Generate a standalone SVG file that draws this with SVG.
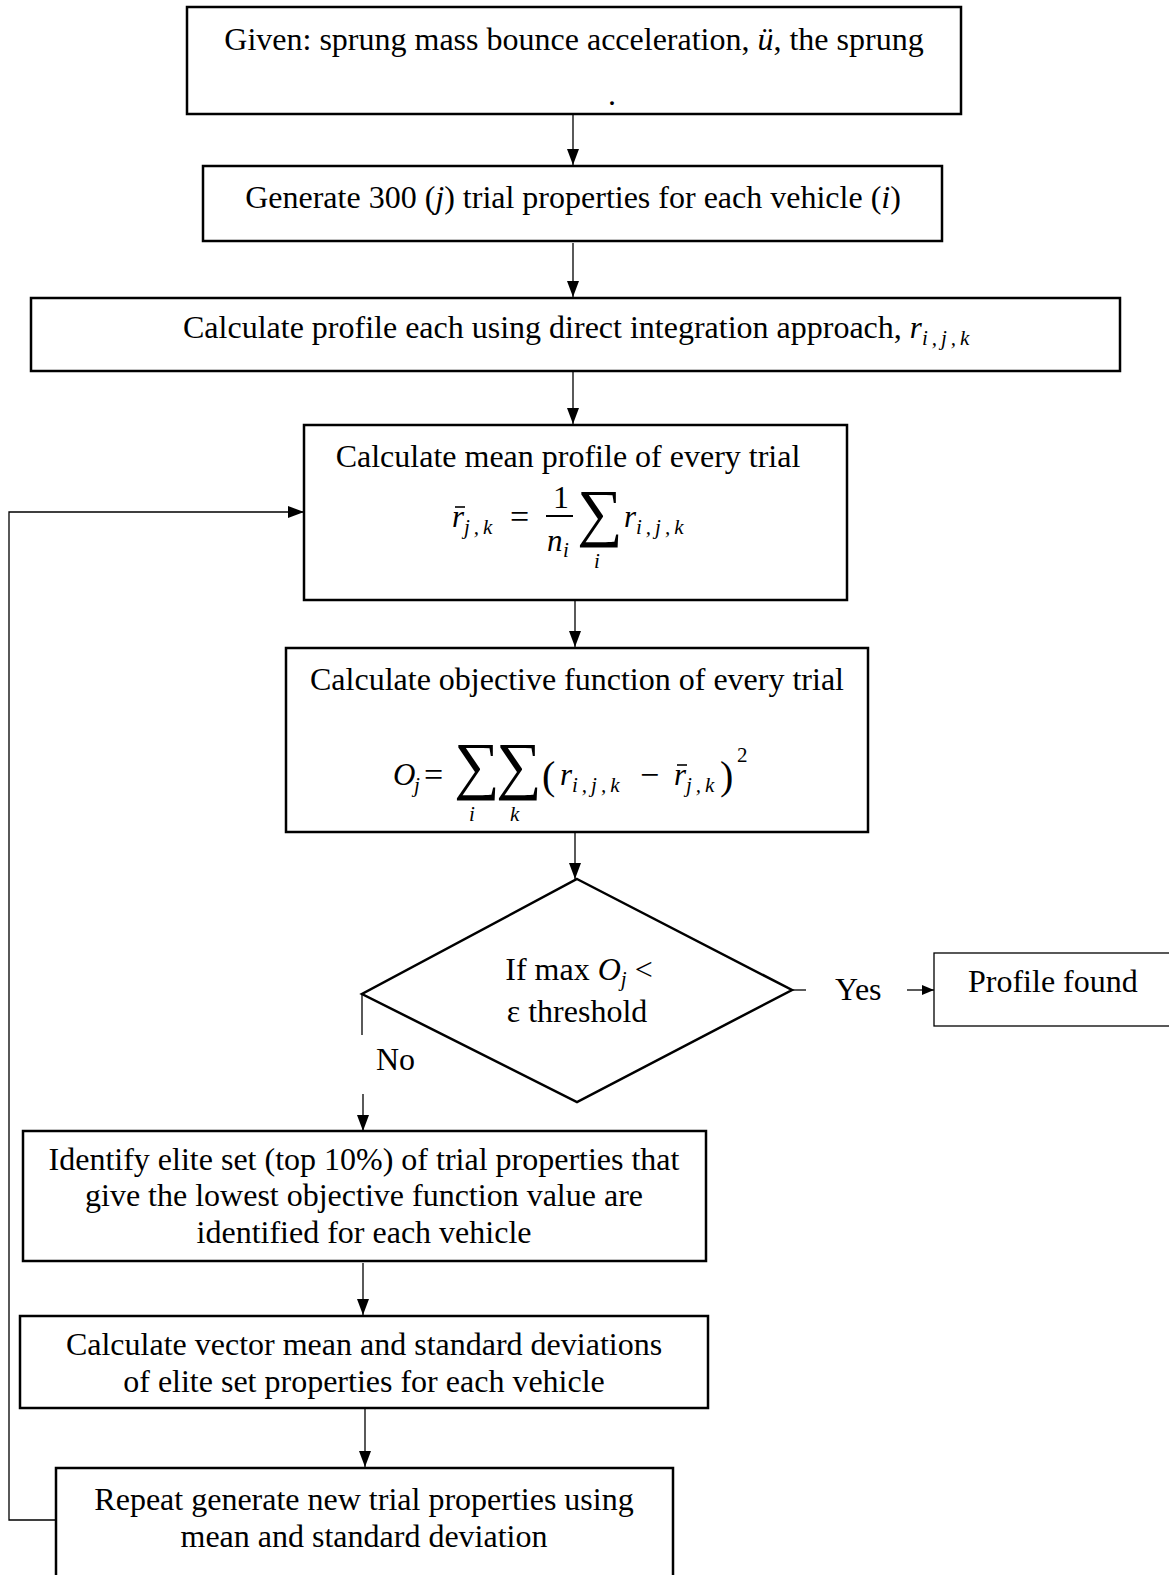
<svg xmlns="http://www.w3.org/2000/svg" width="1169" height="1575" viewBox="0 0 1169 1575">
<style>
.box{fill:#fff;stroke:#000;stroke-width:2.5}
.thin{fill:#fff;stroke:#000;stroke-width:1.3}
text{font-family:"Liberation Serif","Times New Roman",serif;fill:#000}
.t{font-size:32px}
.c{text-anchor:middle}
.i{font-style:italic}
.m{font-style:italic;font-size:31px}
.s{font-style:italic;font-size:21px}
.sp{letter-spacing:4px}
.op{font-size:34px}
.sum{font-size:64px}
.ln{fill:none;stroke:#000;stroke-width:1.3}
.bar{stroke:#000;stroke-width:1.6}
</style>
<defs>
<marker id="ah" markerWidth="16" markerHeight="12" refX="16" refY="6" viewBox="0 0 16 12" markerUnits="userSpaceOnUse" orient="auto">
<path d="M0,0 L16,6 L0,12 Z" fill="#000"/>
</marker>
<marker id="ahs" markerWidth="12" markerHeight="10" refX="12" refY="5" viewBox="0 0 12 10" markerUnits="userSpaceOnUse" orient="auto">
<path d="M0,0 L12,5 L0,10 Z" fill="#000"/>
</marker>
</defs>

<g id="connectors">
<line class="ln" x1="573" y1="115" x2="573" y2="165" marker-end="url(#ah)"/>
<line class="ln" x1="573" y1="243" x2="573" y2="297" marker-end="url(#ah)"/>
<line class="ln" x1="573" y1="372" x2="573" y2="424" marker-end="url(#ah)"/>
<line class="ln" x1="575" y1="601" x2="575" y2="647" marker-end="url(#ah)"/>
<line class="ln" x1="575" y1="833" x2="575" y2="879" marker-end="url(#ah)"/>
<line class="ln" x1="792" y1="990" x2="806" y2="990"/>
<line class="ln" x1="907" y1="990" x2="934" y2="990" marker-end="url(#ahs)"/>
<line class="ln" x1="362" y1="994" x2="362" y2="1035"/>
<line class="ln" x1="363" y1="1094" x2="363" y2="1131" marker-end="url(#ah)"/>
<line class="ln" x1="363" y1="1263" x2="363" y2="1315" marker-end="url(#ah)"/>
<line class="ln" x1="365" y1="1409" x2="365" y2="1467" marker-end="url(#ah)"/>
<polyline class="ln" points="56,1520 9,1520 9,512 304,512" marker-end="url(#ah)"/>
</g>

<g id="given">
<rect class="box" x="187" y="7" width="774" height="107"/>
<text class="t c" x="574" y="50">Given: sprung mass bounce acceleration, <tspan class="i">ü</tspan>, the sprung</text>
<text class="t" x="608" y="105">.</text>
</g>

<g id="generate">
<rect class="box" x="203" y="166" width="739" height="75"/>
<text class="t c" x="573" y="208">Generate 300 (<tspan class="i">j</tspan>) trial properties for each vehicle (<tspan class="i">i</tspan>)</text>
</g>

<g id="calcprofile">
<rect class="box" x="31" y="298" width="1089" height="73"/>
<text class="t" x="183" y="338">Calculate profile each using direct integration approach, <tspan class="m">r</tspan><tspan class="s sp" dy="7">i,j,k</tspan></text>
</g>

<g id="meanprofile">
<rect class="box" x="304" y="425" width="543" height="175"/>
<text class="t c" x="568" y="467">Calculate mean profile of every trial</text>
<text class="m" x="452" y="527">r</text>
<line class="bar" x1="455" y1="507" x2="465" y2="507"/>
<text class="s sp" x="464" y="534">j,k</text>
<text class="op" x="510" y="528">=</text>
<text class="t" x="553" y="508">1</text>
<line x1="546" y1="516" x2="573" y2="516" stroke="#000" stroke-width="2"/>
<text class="m" x="547" y="551">n</text>
<text class="s" x="563" y="557">i</text>
<text class="sum" x="577" y="534">∑</text>
<text class="s" x="594" y="568">i</text>
<text class="m" x="624" y="527">r</text>
<text class="s sp" x="636" y="534">i,j,k</text>
</g>

<g id="objective">
<rect class="box" x="286" y="648" width="582" height="184"/>
<text class="t c" x="577" y="690">Calculate objective function of every trial</text>
<text class="m" x="393" y="785">O</text>
<text class="s" x="414" y="792">j</text>
<text class="op" x="424" y="786">=</text>
<text class="sum" x="454" y="787">∑</text>
<text class="s" x="469" y="821">i</text>
<text class="sum" x="496" y="787">∑</text>
<text class="s" x="510" y="821">k</text>
<text style="font-size:40px" x="542" y="789">(</text>
<text class="m" x="560" y="785">r</text>
<text class="s sp" x="572" y="792">i,j,k</text>
<text class="op" x="640" y="786">−</text>
<text class="m" x="674" y="785">r</text>
<line class="bar" x1="677" y1="765" x2="687" y2="765"/>
<text class="s sp" x="686" y="792">j,k</text>
<text style="font-size:40px" x="720" y="789">)</text>
<text style="font-size:21px" x="737" y="762">2</text>
</g>

<g id="decision">
<polygon class="box" points="577,879 792,990 577,1102 362,994"/>
<text class="t c" x="579" y="980">If max <tspan class="i">O</tspan><tspan class="s" dy="6">j</tspan><tspan dy="-6"> &lt;</tspan></text>
<text class="t c" x="577" y="1022">ε threshold</text>
</g>

<text class="t" x="835" y="1000">Yes</text>
<text class="t" x="376" y="1070">No</text>

<g id="found">
<rect class="thin" x="934" y="953" width="240" height="73"/>
<text class="t" x="968" y="992">Profile found</text>
</g>

<g id="elite">
<rect class="box" x="23" y="1131" width="683" height="130"/>
<text class="t c" x="364" y="1170">Identify elite set (top 10%) of trial properties that</text>
<text class="t c" x="364" y="1206">give the lowest objective function value are</text>
<text class="t c" x="364" y="1243">identified for each vehicle</text>
</g>

<g id="vectormean">
<rect class="box" x="20" y="1316" width="688" height="92"/>
<text class="t c" x="364" y="1355">Calculate vector mean and standard deviations</text>
<text class="t c" x="364" y="1392">of elite set properties for each vehicle</text>
</g>

<g id="repeat">
<rect class="box" x="56" y="1468" width="617" height="120"/>
<text class="t c" x="364" y="1510">Repeat generate new trial properties using</text>
<text class="t c" x="364" y="1547">mean and standard deviation</text>
</g>
</svg>
